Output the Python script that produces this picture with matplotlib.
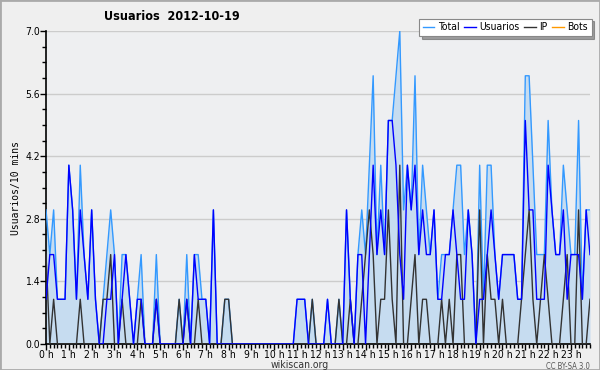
import numpy as np
import matplotlib.pyplot as plt
from matplotlib import font_manager
from matplotlib.ticker import MultipleLocator

# users per 10 minute slot, 144 slots (0h00 .. 23h50)
total = [3, 2, 3, 1, 1, 1, 4, 3, 1, 4, 2, 1, 3, 1, 0, 1, 2, 3, 2, 0,
         2, 2, 1, 0, 1, 2, 0, 0, 0, 2, 0, 0, 0, 0, 0, 1, 0, 2, 0, 2,
         2, 1, 1, 0, 3, 0, 0, 1, 1, 0, 0, 0, 0, 0, 0, 0, 0, 0, 0, 0,
         0, 0, 0, 0, 0, 0, 1, 1, 1, 0, 1, 0, 0, 0, 1, 0, 0, 1, 0, 3,
         1, 0, 2, 3, 2, 4, 6, 2, 4, 2, 5, 5, 6, 7, 3, 4, 3, 6, 2, 4,
         3, 2, 3, 1, 2, 2, 2, 3, 4, 4, 2, 3, 2, 0, 4, 1, 4, 4, 2, 1,
         2, 2, 2, 2, 1, 1, 6, 6, 4, 2, 2, 2, 5, 3, 2, 2, 4, 3, 2, 2,
         5, 1, 3, 3]
usuarios = [1, 2, 2, 1, 1, 1, 4, 3, 1, 3, 2, 1, 3, 1, 0, 0, 1, 1, 2, 0,
            1, 2, 1, 0, 1, 1, 0, 0, 0, 1, 0, 0, 0, 0, 0, 0, 0, 1, 0, 2,
            1, 1, 1, 0, 3, 0, 0, 0, 0, 0, 0, 0, 0, 0, 0, 0, 0, 0, 0, 0,
            0, 0, 0, 0, 0, 0, 1, 1, 1, 0, 0, 0, 0, 0, 1, 0, 0, 0, 0, 3,
            1, 0, 2, 2, 0, 2, 4, 2, 3, 2, 5, 5, 4, 2, 1, 4, 3, 4, 2, 3,
            2, 2, 3, 1, 1, 2, 2, 3, 2, 1, 1, 3, 2, 0, 1, 1, 2, 3, 2, 1,
            2, 2, 2, 2, 1, 1, 5, 3, 3, 1, 1, 1, 4, 3, 2, 2, 3, 1, 2, 2,
            2, 1, 3, 2]
ip = [2, 0, 1, 0, 0, 0, 0, 0, 0, 1, 0, 0, 0, 0, 0, 1, 1, 2, 0, 0,
      1, 0, 0, 0, 0, 1, 0, 0, 0, 1, 0, 0, 0, 0, 0, 1, 0, 1, 0, 0,
      1, 0, 0, 0, 0, 0, 0, 1, 1, 0, 0, 0, 0, 0, 0, 0, 0, 0, 0, 0,
      0, 0, 0, 0, 0, 0, 0, 0, 0, 0, 1, 0, 0, 0, 0, 0, 0, 1, 0, 0,
      1, 0, 0, 1, 2, 3, 2, 0, 1, 1, 3, 1, 0, 4, 0, 0, 1, 2, 0, 1,
      1, 0, 0, 0, 1, 0, 1, 0, 2, 2, 0, 0, 0, 0, 3, 0, 2, 1, 1, 0,
      1, 0, 0, 0, 0, 1, 2, 3, 1, 0, 1, 2, 1, 0, 0, 0, 1, 2, 0, 0,
      3, 0, 0, 1]
bots = [0] * 144

hours = np.arange(len(total)) / 6.0
hour_labels = ["%d h" % h for h in range(24)]


def narrow_font(want_bold):
    # any installed condensed / narrow sans face, else None
    for f in font_manager.fontManager.ttflist:
        n = (f.fname + " " + f.name).lower()
        cond = f.stretch not in ("normal", 500) or "cond" in n or "narrow" in n
        if not cond or "mono" in n or f.style != "normal":
            continue
        isbold = f.weight in ("bold", 700, "semibold", 600) or "bold" in n
        if isbold == want_bold:
            return f.fname
    return None


reg_file = narrow_font(False)
bold_file = narrow_font(True)


def fp(size, b=False):
    f = bold_file if b else reg_file
    if f:
        return font_manager.FontProperties(fname=f, size=size)
    return font_manager.FontProperties(family="DejaVu Sans", size=size - 1,
                                       weight="bold" if b else "normal")


bg = "#efefef"
fig = plt.figure(figsize=(6, 3.7), dpi=100, facecolor=bg)
ax = fig.add_axes([0.0767, 0.0703, 0.9066, 0.8457])
ax.set_facecolor("#eeeff1")

ax.fill_between(hours, total, color="#c6dcf0", lw=0, zorder=1)
ax.plot(hours, bots, color="#ff9900", lw=1, label="Bots", zorder=2)
ax.plot(hours, total, color="#3399ff", lw=1, label="Total", zorder=3)
ax.plot(hours, ip, color="#333333", lw=1, label="IP", zorder=4)
ax.plot(hours, usuarios, color="#0000ff", lw=1, label="Usuarios", zorder=5)

ax.set_xlim(0, hours[-1])
ax.set_ylim(0, 7.0)
yt = np.arange(0, 7.01, 1.4)
ax.set_yticks(yt)
ax.set_yticklabels(["%.1f" % v for v in yt], fontproperties=fp(7.5))
ax.yaxis.set_minor_locator(MultipleLocator(0.35))
ax.set_xticks(range(24))
ax.set_xticklabels(hour_labels, fontproperties=fp(7.5))
ax.xaxis.set_minor_locator(MultipleLocator(1 / 6))
ax.tick_params(which="major", length=4, width=1, pad=0.5)
ax.tick_params(which="minor", length=3, width=1)
ax.grid(axis="y", color="#cccccc", lw=1, zorder=0)
ax.set_axisbelow(True)
for s in ["top", "right"]:
    ax.spines[s].set_visible(False)
for s in ["left", "bottom"]:
    ax.spines[s].set_linewidth(1.2)

ax.set_ylabel("Usuarios/10 mins", fontsize=7, family="DejaVu Sans Mono", labelpad=3)
fig.text(0.287, 0.955, "Usuarios  2012-10-19", fontproperties=fp(9, True),
         ha="center", va="center")
fig.text(0.5, 0.014, "wikiscan.org", fontproperties=fp(7.5), ha="center",
         va="center", color="#333333")
fig.text(0.983, 0.01, "CC BY-SA 3.0", fontproperties=fp(5.5), ha="right",
         va="center", color="#555555")

handles, labels = ax.get_legend_handles_labels()
order = [labels.index(n) for n in ["Total", "Usuarios", "IP", "Bots"]]
leg = ax.legend([handles[k] for k in order], [labels[k] for k in order],
                loc="upper right", bbox_to_anchor=(1.003, 1.04), ncol=4,
                prop=fp(7.5), frameon=True, fancybox=False, shadow=True,
                handlelength=1.1, handletextpad=0.35, columnspacing=0.45,
                borderpad=0.35, borderaxespad=0)
leg.get_frame().set_edgecolor("#888888")
leg.get_frame().set_linewidth(0.8)

fig.patches.append(plt.Rectangle((0, 0), 1, 1, transform=fig.transFigure,
                                 fill=False, ec="#aaaaaa", lw=2))
fig.savefig("out.png", dpi=100, facecolor=bg)
